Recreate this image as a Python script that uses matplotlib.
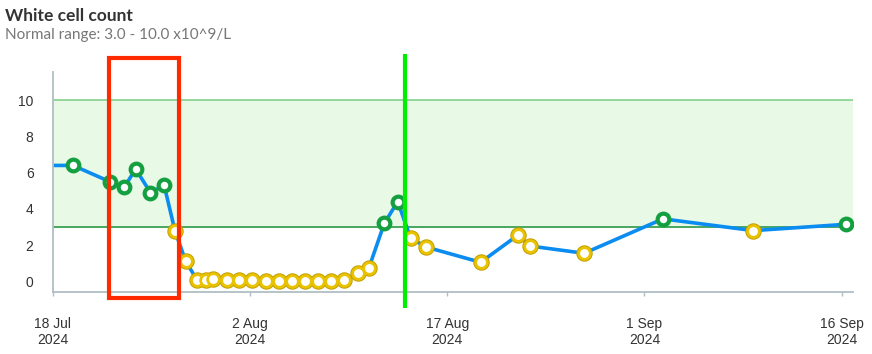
import datetime as dt
import matplotlib
matplotlib.use("Agg")
import matplotlib.pyplot as plt
import matplotlib.dates as mdates
from matplotlib.patches import Rectangle

# Datos
fechas = [
    "2024-07-15 12:00", "2024-07-19 12:30", "2024-07-22 08:00", "2024-07-23 10:00",
    "2024-07-24 07:00", "2024-07-25 10:00", "2024-07-26 11:00", "2024-07-27 07:00",
    "2024-07-28 02:30", "2024-07-28 22:30", "2024-07-29 15:00", "2024-07-30 05:00",
    "2024-07-31 05:00", "2024-08-01 04:00", "2024-08-02 04:00", "2024-08-03 05:00",
    "2024-08-04 04:00", "2024-08-05 05:00", "2024-08-06 05:00", "2024-08-07 04:00",
    "2024-08-08 04:00", "2024-08-09 04:00", "2024-08-10 05:00", "2024-08-11 01:00",
    "2024-08-12 05:00", "2024-08-13 05:30", "2024-08-14 05:00", "2024-08-15 08:30",
    "2024-08-19 13:00", "2024-08-22 09:00", "2024-08-23 07:00", "2024-08-27 10:00",
    "2024-09-02 10:00", "2024-09-09 07:00", "2024-09-16 08:30",
]
valores = [
    6.4, 6.4, 5.5, 5.2,
    6.2, 4.9, 5.3, 2.76,
    1.1, 0.1, 0.05, 0.15,
    0.1, 0.1, 0.05, 0.02,
    0.02, 0.02, 0.02, 0.02,
    0.02, 0.05, 0.45, 0.75,
    3.2, 4.4, 2.4, 1.9,
    1.05, 2.55, 1.95, 1.55,
    3.45, 2.8, 3.15,
]
rango_min = 3.0
rango_max = 10.0
ticks_x = ["2024-07-18", "2024-08-02", "2024-08-17", "2024-09-01", "2024-09-16"]
ticks_y = [0, 2, 4, 6, 8, 10]

# Anotaciones (recuadro rojo y linea verde)
recuadro = ("2024-07-22 06:30", "2024-07-27 14:30", -0.92, 12.31)
linea_marca = ("2024-08-13 19:00", -1.48, 12.56)

fechas = [dt.datetime.strptime(f, "%Y-%m-%d %H:%M") for f in fechas]
ticks_x = [dt.datetime.strptime(f, "%Y-%m-%d") for f in ticks_x]

fig = plt.figure(figsize=(8.72, 3.54), dpi=100)
ax = fig.add_axes([53 / 872, 1 - 292 / 354, 800 / 872, 220 / 354])

x0 = dt.datetime(2024, 7, 18)
x1 = dt.datetime(2024, 9, 16, 21, 0)
ax.set_xlim(x0, x1)
ax.set_ylim(-0.59, 11.56)

# Banda de rango normal
ax.axhspan(rango_min, rango_max, color="#e8f9e6", zorder=0)
ax.axhline(rango_max, color="#86d08f", lw=1.2, zorder=1)
ax.axhline(rango_min, color="#2e9a48", lw=1.2, zorder=1)

ax.plot(fechas, valores, color="#0a8cf0", lw=2.6, zorder=2)

dentro = [rango_min <= v <= rango_max for v in valores]
xv = [f for f, d in zip(fechas, dentro) if d]
yv = [v for v, d in zip(valores, dentro) if d]
xa = [f for f, d in zip(fechas, dentro) if not d]
ya = [v for v, d in zip(valores, dentro) if not d]
ax.plot(xa, ya, ls="none", marker="o", ms=8.4, mew=3.4, mfc="white",
        mec="#c29f00", zorder=3)
ax.plot(xa, ya, ls="none", marker="o", ms=8.4, mew=2.0, mfc="white",
        mec="#eac300", zorder=4)
ax.plot(xv, yv, ls="none", marker="o", ms=8.4, mew=3.0, mfc="white",
        mec="#14a040", zorder=4)

ax.set_xticks(ticks_x)
ax.xaxis.set_major_formatter(mdates.DateFormatter("%-d %b\n%Y"))
ax.set_yticks(ticks_y)
ax.tick_params(axis="y", length=0, pad=14, labelsize=10, labelcolor="#333333")
ax.tick_params(axis="x", length=3, width=1, color="#b0bec5", pad=15,
               labelsize=10, labelcolor="#333333")
for lab in ax.get_xticklabels() + ax.get_yticklabels():
    lab.set_family("Liberation Sans")

for s in ["top", "right"]:
    ax.spines[s].set_visible(False)
for s in ["left", "bottom"]:
    ax.spines[s].set_color("#b0bec5")
    ax.spines[s].set_linewidth(1.3)

# recuadro rojo
rx0 = mdates.date2num(dt.datetime.strptime(recuadro[0], "%Y-%m-%d %H:%M"))
rx1 = mdates.date2num(dt.datetime.strptime(recuadro[1], "%Y-%m-%d %H:%M"))
ax.add_patch(Rectangle((rx0, recuadro[2]), rx1 - rx0, recuadro[3] - recuadro[2],
                       fill=False, ec="#ff2a00", lw=3, clip_on=False, zorder=10))
lx = mdates.date2num(dt.datetime.strptime(linea_marca[0], "%Y-%m-%d %H:%M"))
ax.plot([lx, lx], [linea_marca[1], linea_marca[2]], color="#00ee00", lw=3,
        clip_on=False, zorder=10, solid_capstyle="butt")

fig.text(5 / 872, 1 - 21 / 354, "White cell count", fontsize=12.5,
         fontweight="bold", color="#333333", family="Lato")
fig.text(5 / 872, 1 - 39 / 354, "Normal range: 3.0 - 10.0 x10^9/L", fontsize=11,
         color="#777777", family="Lato")

fig.savefig("out.png", dpi=100)
